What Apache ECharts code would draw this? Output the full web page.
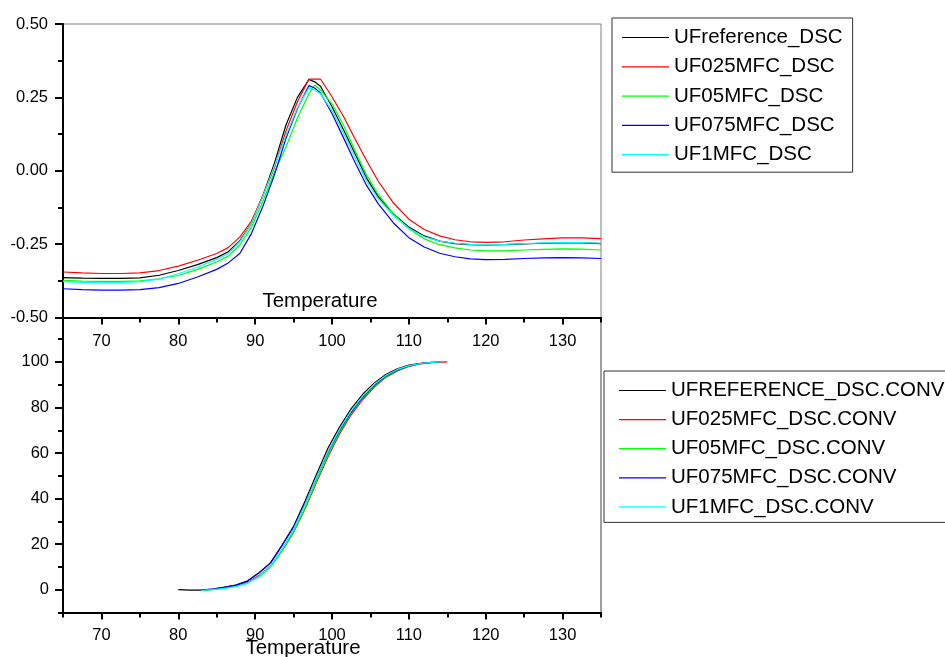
<!DOCTYPE html>
<html>
<head>
<meta charset="utf-8">
<script src="https://cdn.jsdelivr.net/npm/echarts@6/dist/echarts.min.js"></script>
<style>html,body{margin:0;padding:0;background:#fff;}#chart{width:945px;height:657px;}</style>
</head>
<body>
<div id="chart"></div>
<script>
// ---- DSC (top panel) ----
const dscT = [65,67.5,70,72.5,75,77.5,80,82.5,85,86.5,88,89.5,91,92.5,94,95.5,97,97.75,98.5,100,101.5,103,104.5,106,108,110,112,114,116,118,120,122.5,125,127.5,130,132.5,135];
const dscRef = [-0.364,-0.366,-0.367,-0.367,-0.365,-0.356,-0.340,-0.320,-0.296,-0.276,-0.239,-0.180,-0.085,0.025,0.155,0.250,0.311,0.303,0.288,0.218,0.140,0.058,-0.025,-0.088,-0.147,-0.192,-0.222,-0.240,-0.248,-0.252,-0.253,-0.252,-0.249,-0.247,-0.246,-0.246,-0.248];
const dsc025 = [-0.345,-0.348,-0.350,-0.350,-0.348,-0.340,-0.325,-0.305,-0.282,-0.262,-0.226,-0.172,-0.085,0.010,0.135,0.235,0.3125,0.3125,0.3125,0.252,0.185,0.108,0.035,-0.035,-0.110,-0.165,-0.200,-0.222,-0.235,-0.242,-0.244,-0.242,-0.236,-0.232,-0.229,-0.229,-0.231];
const dsc05 = [-0.373,-0.376,-0.377,-0.377,-0.375,-0.368,-0.357,-0.336,-0.311,-0.291,-0.253,-0.193,-0.105,-0.005,0.080,0.180,0.262,0.292,0.275,0.228,0.155,0.068,-0.015,-0.080,-0.148,-0.198,-0.232,-0.252,-0.263,-0.270,-0.273,-0.273,-0.270,-0.268,-0.266,-0.267,-0.270];
const dsc075 = [-0.402,-0.405,-0.407,-0.407,-0.405,-0.398,-0.384,-0.362,-0.336,-0.314,-0.282,-0.215,-0.122,-0.015,0.110,0.212,0.290,0.282,0.265,0.195,0.112,0.028,-0.050,-0.112,-0.178,-0.228,-0.260,-0.281,-0.293,-0.300,-0.303,-0.302,-0.299,-0.297,-0.296,-0.297,-0.299];
const dsc1 = [-0.378,-0.380,-0.381,-0.381,-0.378,-0.369,-0.351,-0.328,-0.302,-0.282,-0.242,-0.180,-0.088,0.015,0.120,0.215,0.283,0.275,0.262,0.205,0.128,0.045,-0.035,-0.095,-0.153,-0.197,-0.225,-0.240,-0.247,-0.251,-0.252,-0.251,-0.248,-0.246,-0.245,-0.245,-0.247];
const dscNames = ['UFreference_DSC','UF025MFC_DSC','UF05MFC_DSC','UF075MFC_DSC','UF1MFC_DSC'];

// ---- Conversion (bottom panel) ----
const convT = [80,81.5,83,84.5,86,87.5,89,90.5,92,93.5,95,96.5,98,99.5,101,102.5,104,105.5,107,108.5,110,111.5,113,114,115];
const convRef = [0,-0.2,-0.2,0.3,1.1,2.0,3.8,7.5,11.8,19.5,27.8,39.0,50.8,62.3,71.5,79.5,85.8,90.8,94.5,97.0,98.6,99.4,99.8,null,null];
const conv025 = [null,null,-0.2,0.2,0.8,1.6,3.2,6.2,10.5,17.0,25.2,35.5,47.3,58.5,68.5,76.8,83.5,89.0,93.2,96.0,98.0,99.1,99.7,99.9,100];
const conv05 = [null,null,-0.3,0.0,0.6,1.4,2.8,5.6,10.0,17.0,25.5,36.0,48.0,59.3,69.3,77.6,84.2,89.5,93.5,96.3,98.2,99.2,99.7,100,null];
const conv075 = [null,null,-0.1,0.3,1.0,2.0,3.8,7.3,11.8,19.5,27.5,38.0,49.5,60.5,70.0,78.0,84.5,89.8,93.8,96.5,98.3,99.3,99.8,100,null];
const conv1 = [null,null,-0.3,0.0,0.6,1.4,2.9,5.8,10.5,17.8,26.5,37.5,49.5,60.8,70.5,78.6,85.0,90.2,94.0,96.7,98.4,99.3,99.8,100,null];
const convNames = ['UFREFERENCE_DSC.CONV','UF025MFC_DSC.CONV','UF05MFC_DSC.CONV','UF075MFC_DSC.CONV','UF1MFC_DSC.CONV'];

// ---- ticks ----
const xMajor = [70,80,90,100,110,120,130];
const xMinor = [65,75,85,95,105,115,125,135];
const yConvMajor = [0,20,40,60,80,100];
const yConvMinor = [-10,10,30,50,70,90,110];
const xTitle = 'Temperature';

const colors = ['#000000','#ff0000','#00ff00','#0000ff','#00ffff'];
const FONT = '"Liberation Sans", Arial, sans-serif';

const pairs = (xs, ys) => xs.map((x, i) => [x, ys[i]]);

const chart = echarts.init(document.getElementById('chart'), null, {renderer: 'canvas'});

function majorX(gridIndex, margin) {
  return {
    gridIndex, type: 'value', min: 65, max: 135, position: 'bottom',
    axisLine: {show: true, onZero: false, lineStyle: {color: '#000', width: 2}},
    axisTick: {show: true, customValues: xMajor, length: 7, lineStyle: {color: '#000', width: 2}},
    axisLabel: {show: true, customValues: xMajor, margin, fontSize: 16.5, color: '#000', fontFamily: FONT},
    splitLine: {show: false}
  };
}
function minorX(gridIndex) {
  return {
    gridIndex, type: 'value', min: 65, max: 135, position: 'bottom', offset: 0,
    axisLine: {show: false, onZero: false},
    axisTick: {show: true, customValues: xMinor, length: 5, lineStyle: {color: '#000', width: 2}},
    axisLabel: {show: false},
    splitLine: {show: false}
  };
}

const dscSets = [dscRef, dsc025, dsc05, dsc075, dsc1];
const convSets = [convRef, conv025, conv05, conv075, conv1];

const series = [];
dscSets.forEach((d, i) => series.push({
  name: dscNames[i], type: 'line', xAxisIndex: 0, yAxisIndex: 0,
  data: pairs(dscT, d), symbol: 'none', smooth: false,
  lineStyle: {color: colors[i], width: 1.2}, itemStyle: {color: colors[i]}
}));
convSets.forEach((d, i) => series.push({
  name: convNames[i], type: 'line', xAxisIndex: 2, yAxisIndex: 1,
  data: pairs(convT, d), symbol: 'none', smooth: false, connectNulls: false,
  lineStyle: {color: colors[i], width: 1.2}, itemStyle: {color: colors[i]}
}));

const legendBase = {
  orient: 'vertical', itemWidth: 47, itemHeight: 1.2, icon: 'rect',
  borderColor: '#333', borderWidth: 1, selectedMode: false,
  textStyle: {fontSize: 20.5, lineHeight: 20, color: '#000', fontFamily: FONT}
};

chart.setOption({
  animation: false,
  backgroundColor: '#ffffff',
  grid: [
    {left: 63, top: 24, width: 538, height: 293.5, show: true, borderColor: '#808080', borderWidth: 1},
    {left: 63, top: 317.5, width: 538, height: 295, show: true, borderColor: '#404040', borderWidth: 1}
  ],
  xAxis: [majorX(0, 15), minorX(0), majorX(1, 14), minorX(1)],
  yAxis: [
    {
      gridIndex: 0, type: 'value', min: -0.5, max: 0.5, interval: 0.25, position: 'left',
      axisLine: {show: true, onZero: false, lineStyle: {color: '#000', width: 2}},
      axisTick: {show: true, length: 8, lineStyle: {color: '#000', width: 2}},
      minorTick: {show: true, splitNumber: 2, length: 5, lineStyle: {color: '#000', width: 2}},
      axisLabel: {margin: 15, fontSize: 16.5, color: '#000', fontFamily: FONT, formatter: v => v.toFixed(2)},
      splitLine: {show: false}
    },
    {
      gridIndex: 1, type: 'value', min: -10, max: 119.5, position: 'left',
      axisLine: {show: true, onZero: false, lineStyle: {color: '#000', width: 2}},
      axisTick: {show: true, customValues: yConvMajor, length: 8, lineStyle: {color: '#000', width: 2}},
      axisLabel: {customValues: yConvMajor, margin: 14, fontSize: 16.5, color: '#000', fontFamily: FONT},
      splitLine: {show: false}
    },
    {
      gridIndex: 1, type: 'value', min: -10, max: 119.5, position: 'left', offset: 0,
      axisLine: {show: false, onZero: false},
      axisTick: {show: true, customValues: yConvMinor, length: 5, lineStyle: {color: '#000', width: 2}},
      axisLabel: {show: false},
      splitLine: {show: false}
    }
  ],
  legend: [
    Object.assign({}, legendBase, {data: dscNames, left: 612, top: 18, padding: [9, 10, 7, 10], itemGap: 8.3}),
    Object.assign({}, legendBase, {data: convNames, left: 604, top: 371, padding: [9, 10, 5, 15], itemGap: 8.1})
  ],
  graphic: [
    {type: 'text', x: 320, y: 301.5, style: {text: xTitle, fontSize: 20.5, fontFamily: FONT, fill: '#000', align: 'center', verticalAlign: 'middle'}},
    {type: 'text', x: 303, y: 648, style: {text: xTitle, fontSize: 20.5, fontFamily: FONT, fill: '#000', align: 'center', verticalAlign: 'middle'}}
  ],
  series
});
</script>
</body>
</html>
